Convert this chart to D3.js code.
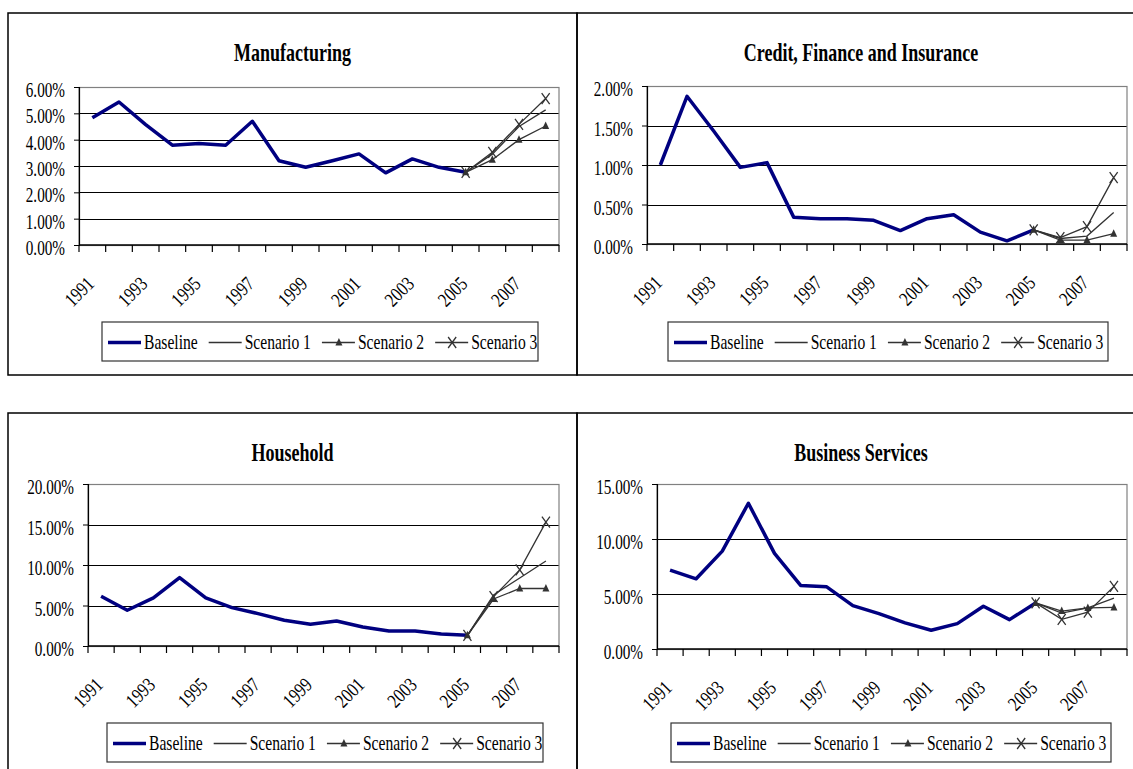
<!DOCTYPE html>
<html>
<head>
<meta charset="utf-8">
<script src="https://cdn.jsdelivr.net/npm/d3@7"></script>
<style>
  body { margin: 0; background: #fff; }
  svg { display: block; font-family: "Liberation Serif", "Times New Roman", serif; }
</style>
</head>
<body>
<svg id="chart" width="1133" height="769"></svg>
<script>
// values (percent)
let years = [1991, 1992, 1993, 1994, 1995, 1996, 1997, 1998, 1999, 2000, 2001, 2002, 2003, 2004, 2005, 2006, 2007, 2008]
let baselineYears = [1991, 1992, 1993, 1994, 1995, 1996, 1997, 1998, 1999, 2000, 2001, 2002, 2003, 2004, 2005]
let scenarioYears = [2005, 2006, 2007, 2008]
let seriesNames = ['Baseline', 'Scenario 1', 'Scenario 2', 'Scenario 3']

let manufacturingBaseline = [4.83, 5.43, 4.57, 3.79, 3.85, 3.79, 4.70, 3.20, 2.95, 3.20, 3.46, 2.74, 3.27, 2.95, 2.76]
let manufacturingScenario1 = [2.76, 3.45, 4.50, 5.13]
let manufacturingScenario2 = [2.76, 3.24, 4.00, 4.52]
let manufacturingScenario3 = [2.76, 3.52, 4.58, 5.56]
let manufacturingTicks = [0, 1, 2, 3, 4, 5, 6]

let creditBaseline = [1.00, 1.87, 1.43, 0.97, 1.03, 0.34, 0.32, 0.32, 0.30, 0.17, 0.32, 0.37, 0.15, 0.04, 0.18]
let creditScenario1 = [0.18, 0.07, 0.10, 0.40]
let creditScenario2 = [0.18, 0.05, 0.05, 0.13]
let creditScenario3 = [0.18, 0.08, 0.22, 0.84]
let creditTicks = [0, 0.5, 1, 1.5, 2]

let householdBaseline = [6.14, 4.41, 5.94, 8.45, 5.94, 4.74, 4.00, 3.18, 2.68, 3.09, 2.35, 1.86, 1.86, 1.48, 1.32]
let householdScenario1 = [1.32, 6.30, 8.40, 10.50]
let householdScenario2 = [1.32, 5.80, 7.10, 7.10]
let householdScenario3 = [1.32, 6.10, 9.40, 15.30]
let householdTicks = [0, 5, 10, 15, 20]

let businessBaseline = [7.17, 6.38, 8.90, 13.25, 8.69, 5.78, 5.65, 3.95, 3.22, 2.37, 1.70, 2.31, 3.89, 2.67, 4.19]
let businessScenario1 = [4.19, 3.27, 3.73, 4.63]
let businessScenario2 = [4.19, 3.45, 3.73, 3.78]
let businessScenario3 = [4.19, 2.70, 3.35, 5.69]
let businessTicks = [0, 5, 10, 15]

// layout of each panel: outer box, plot area, legend box
let panels = [
  {
    title: 'Manufacturing', ticks: manufacturingTicks,
    series: [manufacturingBaseline, manufacturingScenario1, manufacturingScenario2, manufacturingScenario3],
    box: [8, 13, 577, 375], plot: [79, 87, 559, 245], legend: [102, 322, 538, 361],
  },
  {
    title: 'Credit, Finance and Insurance', ticks: creditTicks,
    series: [creditBaseline, creditScenario1, creditScenario2, creditScenario3],
    box: [577, 13, 1150, 375], plot: [647, 86, 1127, 244], legend: [668, 322, 1108, 361],
  },
  {
    title: 'Household', ticks: householdTicks,
    series: [householdBaseline, householdScenario1, householdScenario2, householdScenario3],
    box: [8, 413, 577, 790], plot: [88, 484, 559, 646], legend: [107, 723, 543, 762],
  },
  {
    title: 'Business Services', ticks: businessTicks,
    series: [businessBaseline, businessScenario1, businessScenario2, businessScenario3],
    box: [577, 413, 1150, 790], plot: [657, 484, 1127, 649], legend: [671, 723, 1111, 762],
  },
]

let navy = '#000080'
let dark = '#333333'
let squish = 0.76 // the source picture is squeezed sideways
let fmt = d => d.toFixed(2) + '%'

let svg = d3.select('#chart')
panels.forEach(p => drawPanel(svg.append('g'), p))

/**
 * draw one framed chart: title, grid, axes, lines, legend
 */
function drawPanel(g, p) {
  let [bx0, by0, bx1, by1] = p.box
  let [px0, py0, px1, py1] = p.plot

  g.append('rect')
    .attr('x', bx0).attr('y', by0)
    .attr('width', bx1 - bx0).attr('height', by1 - by0)
    .attr('fill', 'none').attr('stroke', '#000').attr('stroke-width', 1.5)

  g.append('text')
    .attr('transform', `translate(${(bx0 + Math.min(bx1, 1145)) / 2},${by0 + 48}) scale(0.72,1)`)
    .attr('text-anchor', 'middle')
    .attr('font-weight', 'bold')
    .attr('font-size', 25)
    .text(p.title)

  let x = d3.scaleBand().domain(years).range([px0, px1])
  let y = d3.scaleLinear().domain([0, d3.max(p.ticks)]).range([py1, py0])
  let cx = d => x(d) + x.bandwidth() / 2

  // gridlines
  g.selectAll('line.grid')
    .data(p.ticks.filter(t => t > 0))
    .join('line')
    .attr('class', 'grid')
    .attr('x1', px0).attr('x2', px1)
    .attr('y1', d => Math.round(y(d)) + 0.5).attr('y2', d => Math.round(y(d)) + 0.5)
    .attr('stroke', '#000').attr('stroke-width', 1)

  // plot frame (right / top are grey)
  g.append('rect')
    .attr('x', px0).attr('y', Math.round(py0) + 0.5)
    .attr('width', px1 - px0).attr('height', py1 - py0)
    .attr('fill', 'none').attr('stroke', '#808080').attr('stroke-width', 1.2)

  // y axis
  let yAxis = d3.axisLeft(y).tickValues(p.ticks).tickFormat(fmt).tickSize(5)
  let ya = g.append('g').attr('transform', `translate(${px0},0)`).call(yAxis)
  ya.select('.domain').attr('stroke', '#000').attr('stroke-width', 1.2)
  ya.selectAll('text')
    .attr('x', 0)
    .attr('dy', '0.35em')
    .attr('transform', `translate(-14,2.5) scale(${squish},1)`)
    .attr('font-family', '"Liberation Serif", serif')
    .attr('font-size', 20)
    .attr('fill', '#000')

  // x axis: ticks between categories, every other label
  let xa = g.append('g').attr('transform', `translate(0,${py1})`)
  xa.append('line')
    .attr('x1', px0).attr('x2', px1).attr('y1', 0).attr('y2', 0)
    .attr('stroke', '#000').attr('stroke-width', 1.5)
  xa.selectAll('line.tick')
    .data(years.concat(['end']))
    .join('line')
    .attr('class', 'tick')
    .attr('x1', d => (d === 'end' ? px1 : x(d)))
    .attr('x2', d => (d === 'end' ? px1 : x(d)))
    .attr('y1', 0).attr('y2', 7)
    .attr('stroke', '#000').attr('stroke-width', 1.2)
  xa.selectAll('text')
    .data(years.filter((d, i) => i % 2 === 0))
    .join('text')
    .attr('transform', d => `translate(${cx(d) + 3},40) rotate(-45) scale(0.8,1)`)
    .attr('text-anchor', 'end')
    .attr('font-size', 20)
    .text(d => d)

  // series
  let line = d3.line().x(d => cx(d[0])).y(d => y(d[1]))
  let base = baselineYears.map((yr, i) => [yr, p.series[0][i]])
  g.append('path')
    .datum(base)
    .attr('d', line)
    .attr('fill', 'none').attr('stroke', navy).attr('stroke-width', 3.5)
    .attr('stroke-linejoin', 'round')

  for (let s = 1; s <= 3; s++) {
    let pts = scenarioYears.map((yr, i) => [yr, p.series[s][i]])
    g.append('path')
      .datum(pts)
      .attr('d', line)
      .attr('fill', 'none').attr('stroke', dark).attr('stroke-width', 1.3)
    if (s > 1) {
      g.selectAll(null)
        .data(pts)
        .join('path')
        .attr('transform', d => `translate(${cx(d[0])},${y(d[1])})`)
        .call(marker, s)
    }
  }

  drawLegend(g, p.legend)
}

function marker(sel, s) {
  if (s === 2) {
    sel.attr('d', 'M0,-4.5L3.5,3L-3.5,3Z').attr('fill', dark)
  } else {
    sel.attr('d', 'M-4,-5.5L4,5.5M-4,5.5L4,-5.5')
      .attr('fill', 'none').attr('stroke', dark).attr('stroke-width', 1.3)
  }
}

function drawLegend(g, box) {
  let [lx0, ly0, lx1, ly1] = box
  g.append('rect')
    .attr('x', lx0).attr('y', ly0)
    .attr('width', lx1 - lx0).attr('height', ly1 - ly0)
    .attr('fill', '#fff').attr('stroke', '#333').attr('stroke-width', 1.2)
  let my = (ly0 + ly1) / 2 + 1
  let xpos = lx0 + 6
  let ls = 0.78
  seriesNames.forEach((name, s) => {
    g.append('line')
      .attr('x1', xpos).attr('x2', xpos + 33)
      .attr('y1', my).attr('y2', my)
      .attr('stroke', s === 0 ? navy : dark)
      .attr('stroke-width', s === 0 ? 3.5 : 1.3)
    if (s > 1) {
      g.append('path')
        .attr('transform', `translate(${xpos + 17},${my})`)
        .call(marker, s)
    }
    let t = g.append('text')
      .attr('transform', `translate(${xpos + 36},${my}) scale(${ls},1)`)
      .attr('dy', '0.33em')
      .attr('font-size', 20)
      .text(name)
    xpos += 36 + t.node().getComputedTextLength() * ls + 11
  })
}
</script>
</body>
</html>
